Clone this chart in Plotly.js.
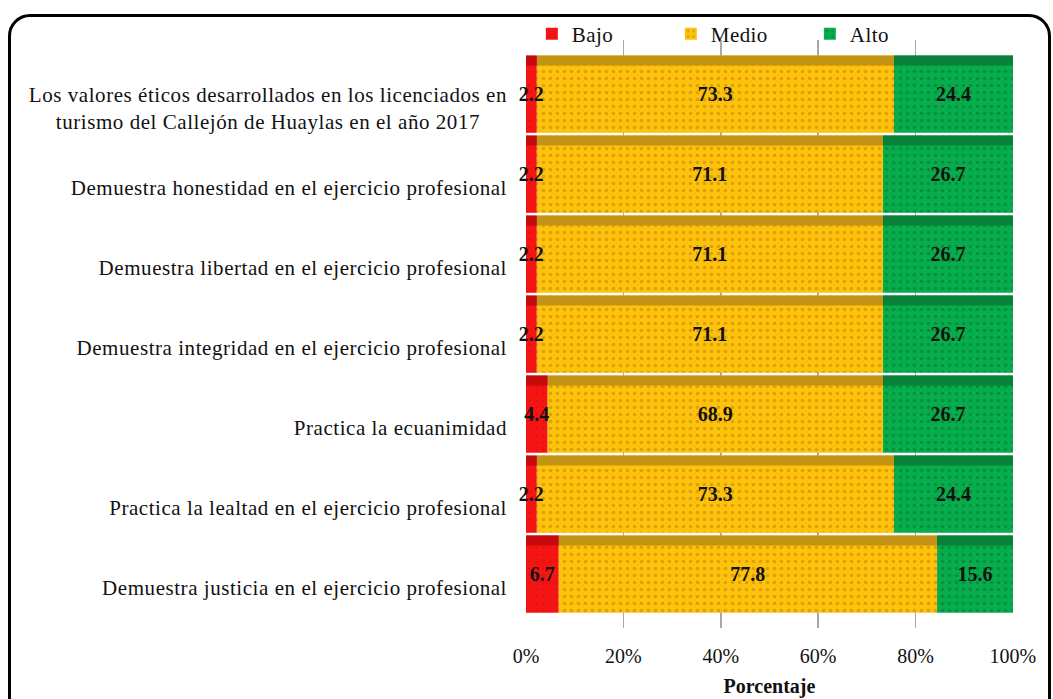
<!DOCTYPE html>
<html>
<head>
<meta charset="utf-8">
<script src="https://cdn.plot.ly/plotly-3.0.1.min.js"></script>
<style>
  html, body { margin: 0; padding: 0; background: #ffffff; }
  #wrap { position: relative; width: 1053px; height: 699px; overflow: hidden; }
  #chart { position: absolute; left: 0; top: 0; width: 1053px; height: 699px; }
  #frame { position: absolute; left: 8px; top: 14px; width: 1037px; height: 720px;
           border: 3px solid #000; border-radius: 22px; pointer-events: none; }
  #chart .ytick text { letter-spacing: 0.55px; }
  #chart .legendtext { letter-spacing: 0.4px; }
</style>
</head>
<body>
<div id="wrap">
  <div id="chart"></div>
  <div id="frame"></div>
</div>
<script>
// ---- data ----
const categories = [
  "Los valores éticos desarrollados en los licenciados en<br>turismo del Callejón de Huaylas en el año 2017",
  "Demuestra honestidad en el ejercicio profesional",
  "Demuestra libertad en el ejercicio profesional",
  "Demuestra integridad en el ejercicio profesional",
  "Practica la ecuanimidad",
  "Practica la lealtad en el ejercicio profesional",
  "Demuestra justicia en el ejercicio profesional"
];
const seriesNames = ["Bajo", "Medio", "Alto"];
const bajo  = [2.2, 2.2, 2.2, 2.2, 4.4, 2.2, 6.7];
const medio = [73.3, 71.1, 71.1, 71.1, 68.9, 73.3, 77.8];
const alto  = [24.4, 26.7, 26.7, 26.7, 26.7, 24.4, 15.6];
const xTickVals = [0, 20, 40, 60, 80, 100];

// ---- styles ----
const serif = "Liberation Serif, Times New Roman, serif";
const faceColors = ["#f51414", "#ffc20a", "#06ad4c"];
const dotColors  = ["#d80e0e", "#d9a010", "#0a8e3e"];
const topColors  = ["#c40a0a", "#c29314", "#078238"];
const BAR_OFFSET = -0.655, BAR_WIDTH = 0.965, STRIP_WIDTH = 0.125;

// 100 % stacked: each row is normalised to its own total (as the original chart type does)
const values = [bajo, medio, alto];
const totals = categories.map((c, i) => values.reduce((a, arr) => a + arr[i], 0));
const shares = values.map(arr => arr.map((v, i) => v / totals[i] * 100));
const bases = shares.map((arr, s) => arr.map((v, i) => {
  let b = 0; for (let k = 0; k < s; k++) b += shares[k][i]; return b;
}));

function mainTrace(s) {
  const arr = values[s];
  return {
    type: "bar", orientation: "h", name: seriesNames[s], legendrank: s + 1,
    y: categories, x: shares[s], base: bases[s],
    offset: BAR_OFFSET, width: BAR_WIDTH, cliponaxis: s !== 0,
    marker: { color: faceColors[s], line: { width: 0 },
      pattern: { shape: ".", fgcolor: dotColors[s], bgcolor: faceColors[s], size: 7, solidity: s === 0 ? 0.05 : 0.2 } },
    text: arr.map(v => v.toFixed(1)),
    textposition: "inside", insidetextanchor: "middle", textangle: 0, constraintext: "none",
    textfont: { family: serif, size: 20, color: "#111111", weight: "bold" },
    hoverinfo: "text+y"
  };
}
function stripTrace(s) {
  return {
    type: "bar", orientation: "h", name: seriesNames[s] + " top", showlegend: false,
    y: categories, x: shares[s], base: bases[s],
    offset: BAR_OFFSET, width: STRIP_WIDTH,
    marker: { color: topColors[s], line: { width: 0 } },
    hoverinfo: "skip"
  };
}
// drawing order: the narrow "Bajo" bars last so their labels stay on top
const traces = [mainTrace(1), mainTrace(2), stripTrace(1), stripTrace(2), mainTrace(0), stripTrace(0)];

const layout = {
  width: 1053, height: 699,
  paper_bgcolor: "rgba(0,0,0,0)", plot_bgcolor: "#ffffff",
  margin: { l: 526, r: 40, t: 40, b: 71, autoexpand: false },
  barmode: "overlay",
  font: { family: serif, size: 20, color: "#111111" },
  showlegend: true,
  legend: { orientation: "h", x: 0.012, xanchor: "left", y: 1.01, yanchor: "middle",
            entrywidth: 94, entrywidthmode: "pixels", bgcolor: "rgba(255,255,255,0)",
            font: { family: serif, size: 21, color: "#111111" }, traceorder: "normal" },
  xaxis: {
    range: [0, 100.01], tickvals: xTickVals, ticktext: xTickVals.map(v => v + "%"),
    showgrid: true, gridcolor: "#a8a8a8", gridwidth: 1.5, zeroline: false, showline: false,
    ticks: "", ticklabelstandoff: 14,
    tickfont: { family: serif, size: 20, color: "#111111" },
    title: { text: "Porcentaje", standoff: 12, font: { family: serif, size: 20, color: "#111111", weight: "bold" } },
    automargin: false, fixedrange: true
  },
  yaxis: {
    type: "category", range: [6.5, -0.85], showgrid: false, zeroline: false, showline: false,
    ticks: "", ticklabelstandoff: 18,
    tickfont: { family: serif, size: 21, color: "#111111" },
    automargin: false, fixedrange: true
  }
};

Plotly.newPlot("chart", traces, layout, { displayModeBar: false, staticPlot: true }).then(gd => {
  // centre the lines of multi-line category labels, as in the original
  gd.querySelectorAll(".ytick text").forEach(t => {
    const lines = t.querySelectorAll("tspan.line");
    if (lines.length < 2) return;
    const bb = t.getBBox();
    const cx = bb.x + bb.width / 2;
    t.setAttribute("text-anchor", "middle");
    t.setAttribute("x", cx);
    lines.forEach(l => { l.setAttribute("x", cx); });
  });
});
</script>
</body>
</html>
